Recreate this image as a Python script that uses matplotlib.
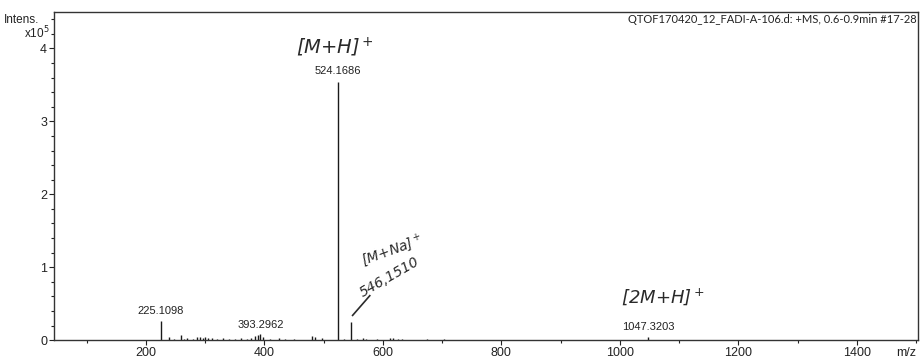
import numpy as np
import matplotlib
matplotlib.use("Agg")
import matplotlib.pyplot as plt
from matplotlib.ticker import MultipleLocator

# --- data (intensity in units of 1e5) ---
mz = [100, 160, 225.1098, 239, 248, 259, 265, 270, 280, 286, 291, 296, 300, 305,
      312, 320, 330, 340, 350, 360, 370, 378, 384, 389, 393.2962, 398, 410, 425,
      435, 450, 480, 486, 497, 524.1686, 535, 546.1510, 556, 566, 571, 590, 612,
      617, 625, 632, 674, 703, 769, 836, 1047.3203, 1100, 1170]
intens = [0.005, 0.005, 0.27, 0.045, 0.015, 0.075, 0.02, 0.025, 0.02, 0.045, 0.04, 0.035,
          0.05, 0.035, 0.03, 0.02, 0.025, 0.02, 0.02, 0.025, 0.02, 0.03, 0.06, 0.07,
          0.08, 0.05, 0.02, 0.025, 0.02, 0.015, 0.06, 0.04, 0.03, 3.54, 0.02, 0.25,
          0.02, 0.03, 0.015, 0.01, 0.035, 0.025, 0.015, 0.01, 0.01, 0.01, 0.008,
          0.008, 0.045, 0.005, 0.005]

labelled = [225.1098, 393.2962, 524.1686, 1047.3203]
label_y = [0.33, 0.14, 3.62, 0.11]

title = "QTOF170420_12_FADI-A-106.d: +MS, 0.6-0.9min #17-28"

fig = plt.figure(figsize=(9.21, 3.6), dpi=100)
ax = fig.add_axes([0.0586, 0.055, 0.938, 0.912])

ax.vlines(mz, 0, intens, color="#1a1a1a", linewidth=1.0)

ax.set_xlim(45, 1503)
ax.set_ylim(0, 4.5)
ax.xaxis.set_major_locator(MultipleLocator(200))
ax.xaxis.set_minor_locator(MultipleLocator(100))
ax.yaxis.set_major_locator(MultipleLocator(1))
ax.yaxis.set_minor_locator(MultipleLocator(0.2))
ax.tick_params(axis="both", which="major", length=3.5, width=0.8, colors="#222222",
               labelsize=9, pad=1.5)
ax.tick_params(axis="both", which="minor", length=2.5, width=0.8, colors="#222222")
for lab in ax.get_xticklabels() + ax.get_yticklabels():
    lab.set_family("Liberation Sans")
for sp in ax.spines.values():
    sp.set_color("#333333")
    sp.set_linewidth(1.0)

# peak labels
for m, y in zip(labelled, label_y):
    ax.text(m, y, f"{m:.4f}", ha="center", va="bottom", fontsize=8,
            family="Liberation Sans", color="#222222")

# header text
ax.text(0.999, 0.995, title, transform=ax.transAxes, ha="right", va="top",
        fontsize=8, family="Lato", color="#222222")
fig.text(0.004, 0.935, "Intens.", fontsize=8.5, family="Liberation Sans", color="#222222")
fig.text(0.054, 0.893, r"x10$^5$", fontsize=8.5, family="Liberation Sans",
         color="#222222", ha="right")
ax.text(0.998, -0.022, "m/z", transform=ax.transAxes, ha="right", va="top",
        fontsize=9, family="Liberation Sans", color="#222222")

# handwritten annotations
hand = dict(family="DejaVu Sans", style="italic", color="#2a2a2a", fontweight="light")
ax.text(519, 4.02, "[M+H]$^+$", ha="center", va="center", fontsize=14, **hand)
ax.text(615, 1.23, "[M+Na]$^+$", ha="center", va="center", fontsize=10, rotation=20, **hand)
ax.text(612, 0.86, "546,1510", ha="center", va="center", fontsize=10, rotation=30, **hand)
ax.plot([549, 578], [0.34, 0.61], color="#2a2a2a", linewidth=1.2)
ax.text(1073, 0.6, "[2M+H]$^+$", ha="center", va="center", fontsize=13, **hand)

fig.savefig("out.png", dpi=100)
